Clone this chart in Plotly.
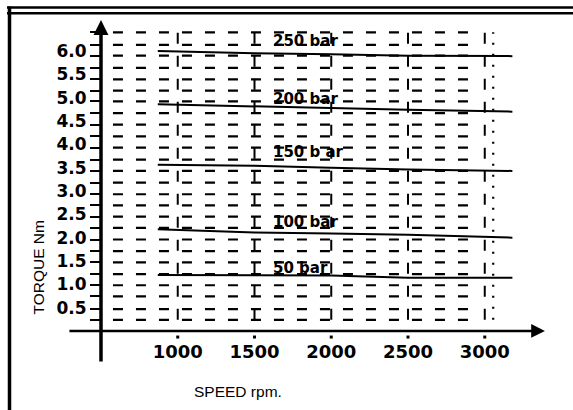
import plotly.graph_objects as go

# ---- data ----
speed = [870, 1500, 2000, 2500, 3180]
torque_250 = [6.00, 5.95, 5.93, 5.90, 5.89]
torque_200 = [4.86, 4.81, 4.77, 4.74, 4.70]
torque_150 = [3.56, 3.54, 3.50, 3.46, 3.43]
torque_100 = [2.18, 2.11, 2.09, 2.06, 2.00]
torque_50 = [1.20, 1.20, 1.19, 1.14, 1.14]
series = [torque_250, torque_200, torque_150, torque_100, torque_50]

pressure_labels = ["250 bar", "200 bar", "150 b ar", "100 bar", "50 bar"]
label_torque = [6.21, 4.97, 3.84, 2.34, 1.35]
label_speed = 1610

x_ticks = [1000, 1500, 2000, 2500, 3000]
x_tick_text = ["1000", "1500", "2000", "2500", "3000"]
y_ticks = [0.5, 1.0, 1.5, 2.0, 2.5, 3.0, 3.5, 4.0, 4.5, 5.0, 5.5, 6.0]
y_tick_text = ["0.5", "1.0", "1.5", "2.0", "2.5", "3.0", "3.5", "4.0", "4.5", "5.0", "5.5", "6.0"]

grid_rows = [0.24, 0.47, 0.74, 0.98, 1.22, 1.47, 1.71, 1.96, 2.21, 2.45, 2.69, 2.93,
             3.18, 3.43, 3.67, 3.93, 4.17, 4.42, 4.67, 4.92, 5.15, 5.39, 5.64, 5.90,
             6.13, 6.40]
grid_speeds = [1000, 1500, 2000, 2500, 3000]
dotted_speed = 3055

x_title = "SPEED rpm."
y_title = "TORQUE Nm"

# ---- layout geometry ----
W, H = 573, 410
ML, MR, MT, MB = 60, 23, 18, 40
PW, PH = W - ML - MR, H - MT - MB
XR = [233, 3425]
YR = [-0.836, 6.707]


def px2paper_x(px):
    return (px - ML) / PW


def px2paper_y(py):
    return (H - MB - py) / PH


fig = go.Figure()

# curves
for vals in series:
    fig.add_trace(go.Scatter(x=speed, y=vals, mode="lines",
                             line=dict(color="black", width=2),
                             hoverinfo="skip", showlegend=False))

# x tick dots
fig.add_trace(go.Scatter(x=x_ticks, y=[-0.13] * len(x_ticks), mode="markers",
                         marker=dict(symbol="square", size=3, color="black"),
                         hoverinfo="skip", showlegend=False))

shapes = []
# horizontal dashed grid
for r in grid_rows:
    shapes.append(dict(type="line", xref="x", yref="y", x0=578, x1=2905, y0=r, y1=r,
                       line=dict(color="black", width=2.2, dash="10px,13px"), layer="below"))
# vertical dashed grid
for s in grid_speeds:
    shapes.append(dict(type="line", xref="x", yref="y", x0=s, x1=s, y0=grid_rows[0], y1=grid_rows[-1],
                       line=dict(color="black", width=2, dash="11px,12px"), layer="below"))
shapes.append(dict(type="line", xref="x", yref="y", x0=dotted_speed, x1=dotted_speed,
                   y0=grid_rows[0], y1=grid_rows[-1],
                   line=dict(color="black", width=2.2, dash="2px,9px"), layer="below"))

# frame
shapes.append(dict(type="line", xref="paper", yref="paper",
                   x0=px2paper_x(7), x1=px2paper_x(573), y0=px2paper_y(7.5), y1=px2paper_y(7.5),
                   line=dict(color="black", width=2.5)))
shapes.append(dict(type="line", xref="paper", yref="paper",
                   x0=px2paper_x(7), x1=px2paper_x(573), y0=px2paper_y(13.3), y1=px2paper_y(13.3),
                   line=dict(color="black", width=2.5)))
shapes.append(dict(type="line", xref="paper", yref="paper",
                   x0=px2paper_x(9.5), x1=px2paper_x(9.5), y0=px2paper_y(6.5), y1=px2paper_y(412),
                   line=dict(color="black", width=3.5)))

annotations = []
# axes with arrow heads
annotations.append(dict(x=3392, y=0, xref="x", yref="y", text="", showarrow=True,
                        ax=-477, ay=0, arrowhead=2, arrowsize=1.1, arrowwidth=2.5,
                        arrowcolor="black", standoff=0))
annotations.append(dict(x=500, y=6.664, xref="x", yref="y", text="", showarrow=True,
                        ax=0, ay=343, arrowhead=2, arrowsize=0.85, arrowwidth=3.5,
                        arrowcolor="black", standoff=0))
# pressure labels
for txt, yv in zip(pressure_labels, label_torque):
    annotations.append(dict(x=label_speed, y=yv, xref="x", yref="y", text=txt, showarrow=False,
                            xanchor="left", yanchor="middle",
                            font=dict(family="DejaVu Sans", size=15, color="black", weight="bold")))
# axis titles
annotations.append(dict(x=px2paper_x(237.5), y=px2paper_y(391.5), xref="paper", yref="paper",
                        text=x_title, showarrow=False, xanchor="center", yanchor="middle",
                        font=dict(family="Liberation Sans", size=15.5, color="black")))
annotations.append(dict(x=px2paper_x(37.5), y=px2paper_y(268), xref="paper", yref="paper",
                        text=y_title, showarrow=False, xanchor="center", yanchor="middle",
                        textangle=-90,
                        font=dict(family="Liberation Sans", size=15.5, color="black")))

fig.update_layout(
    width=W, height=H,
    margin=dict(l=ML, r=MR, t=MT, b=MB),
    paper_bgcolor="white", plot_bgcolor="white",
    shapes=shapes, annotations=annotations,
    xaxis=dict(range=XR, anchor="free", position=px2paper_y(331), showline=False,
               showgrid=False, zeroline=False, tickvals=x_ticks, ticktext=x_tick_text,
               ticks="outside", ticklen=4, tickcolor="rgba(0,0,0,0)",
               tickfont=dict(family="DejaVu Sans", size=18, color="black", weight="bold")),
    yaxis=dict(range=YR, anchor="free", position=px2paper_x(101), showline=False,
               showgrid=False, zeroline=False, tickvals=y_ticks, ticktext=y_tick_text,
               ticks="outside", ticklen=11, tickcolor="rgba(0,0,0,0)",
               tickfont=dict(family="DejaVu Sans", size=17, color="black", weight="bold"),
               minor=dict(tickvals=grid_rows, ticks="outside", ticklen=11, tickwidth=2,
                          tickcolor="black")),
)

fig.write_html("out.html", config={"displayModeBar": False},
               post_script="document.body.style.margin='0';")
